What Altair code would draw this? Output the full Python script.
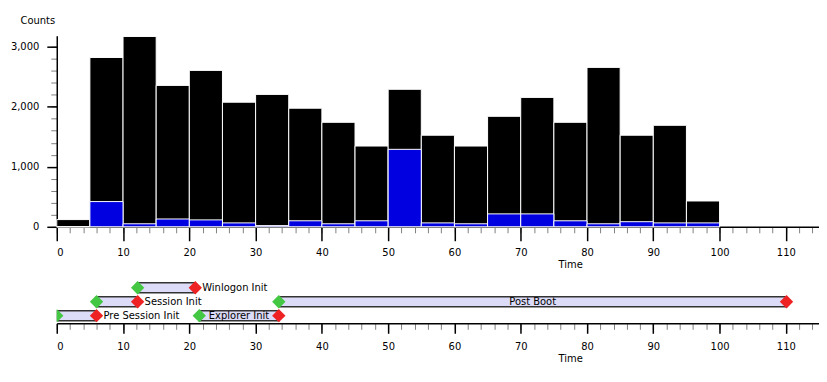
import altair as alt
import pandas as pd

# ---- data ----
bin_start = [0, 5, 10, 15, 20, 25, 30, 35, 40, 45, 50, 55, 60, 65, 70, 75, 80, 85, 90, 95]
total_counts = [120, 2820, 3170, 2355, 2605, 2075, 2205, 1975, 1740, 1345,
                2290, 1525, 1345, 1840, 2155, 1740, 2655, 1525, 1690, 430]
blue_counts = [0, 420, 50, 130, 115, 65, 20, 100, 50, 100,
               1290, 65, 50, 215, 215, 100, 50, 85, 65, 65]

phase_names = ["Pre Session Init", "Session Init", "Winlogon Init", "Explorer Init", "Post Boot"]
phase_start = [0.0, 6.0, 12.2, 21.5, 33.5]
phase_end = [6.0, 12.2, 20.9, 33.5, 110.1]
phase_row = [1, 2, 3, 1, 2]
phase_label_pos = ["right", "right", "right", "center", "center"]

FONT = "DejaVu Sans"
XDOM = [0, 115]
W = 766

bars = pd.DataFrame({
    "start": bin_start,
    "end": [s + 5 for s in bin_start],
    "total": total_counts,
    "blue": blue_counts,
})
bars["zero"] = 0

phases = pd.DataFrame({
    "name": phase_names,
    "start": phase_start,
    "end": phase_end,
    "row": phase_row,
    "pos": phase_label_pos,
})
phases["lo"] = phases["row"] - 0.36
phases["hi"] = phases["row"] + 0.36
phases["mid"] = (phases["start"] + phases["end"]) / 2

major_x = list(range(0, 111, 10))
minor_x = list(range(0, 116, 2))
major_y = [0, 1000, 2000, 3000]
minor_y = list(range(0, 3181, 200))

def xaxis(tick_len, label_pad=3, minor=False, title="Time"):
    if minor:
        return alt.Axis(values=minor_x, tickSize=6, tickColor="#808080", labels=False,
                        domain=False, title=None, grid=False, orient="bottom")
    return alt.Axis(values=major_x, tickSize=tick_len, tickColor="black", tickWidth=1.5,
                    domainColor="black", domainWidth=1.5,
                    labelFont=FONT, labelFontSize=10, labelColor="black", labelPadding=label_pad,
                    title=title, titleFont=FONT, titleFontSize=10, titleFontWeight="normal",
                    titleColor="black", titleX=516, titleAlign="center", titlePadding=2,
                    grid=False, orient="bottom")

xs = alt.Scale(domain=XDOM, nice=False, zero=False)
ys = alt.Scale(domain=[0, 3182], nice=False)

base = alt.Chart(bars)

black = base.mark_bar(color="black", stroke="white", strokeWidth=1).encode(
    x=alt.X("start:Q", scale=xs, axis=xaxis(14, label_pad=7)),
    x2="end:Q",
    y=alt.Y("total:Q", scale=ys,
            axis=alt.Axis(values=major_y, format=",d", tickSize=10, tickColor="black",
                          tickWidth=1.5, domainColor="black", domainWidth=1.5,
                          labelFont=FONT, labelFontSize=10, labelColor="black",
                          labelPadding=8, grid=False, orient="left",
                          title="Counts", titleAngle=0, titleFont=FONT, titleFontSize=10,
                          titleFontWeight="normal", titleColor="black",
                          titleAlign="left", titleBaseline="middle", titleX=-37, titleY=-15)),
    y2="zero:Q",
)
blue = base.mark_bar(color="#0000e0", stroke="white", strokeWidth=1).encode(
    x=alt.X("start:Q", scale=xs, axis=None),
    x2="end:Q",
    y=alt.Y("blue:Q", scale=ys, axis=None),
    y2="zero:Q",
)
minor_tx = alt.Chart(pd.DataFrame({"v": minor_x})).mark_point(opacity=0).encode(
    x=alt.X("v:Q", scale=xs, axis=xaxis(6, minor=True)),
)
minor_ty = alt.Chart(pd.DataFrame({"v": minor_y})).mark_point(opacity=0).encode(
    y=alt.Y("v:Q", scale=ys, axis=alt.Axis(values=minor_y, tickSize=6, tickColor="#808080",
                                           labels=False, domain=False, title=None,
                                           grid=False, orient="left")),
)

top = alt.layer(minor_ty, minor_tx, black, blue).resolve_scale(
    x="independent", y="independent").properties(width=W, height=192)

ys2 = alt.Scale(domain=[0.45, 0.45 + 45 / 14], nice=False)

pbase = alt.Chart(phases)
pbar = pbase.mark_bar(fill="#dcdcf8", stroke="#333333", strokeWidth=1.5, clip=True).encode(
    x=alt.X("start:Q", scale=xs, axis=xaxis(10, label_pad=8)),
    x2="end:Q",
    y=alt.Y("lo:Q", scale=ys2, axis=None),
    y2="hi:Q",
)
pstart = pbase.mark_point(shape="diamond", filled=True, color="#44c844", size=180,
                          opacity=1, clip=True).encode(
    x=alt.X("start:Q", scale=xs, axis=None),
    y=alt.Y("row:Q", scale=ys2, axis=None),
)
pend = pbase.mark_point(shape="diamond", filled=True, color="#ee2222", size=180, opacity=1).encode(
    x=alt.X("end:Q", scale=xs, axis=None),
    y=alt.Y("row:Q", scale=ys2, axis=None),
)
lab_right = pbase.transform_filter(alt.datum.pos == "right").mark_text(
    align="left", baseline="middle", dx=7, font=FONT, fontSize=10, color="black").encode(
    x=alt.X("end:Q", scale=xs, axis=None),
    y=alt.Y("row:Q", scale=ys2, axis=None),
    text="name:N",
)
lab_center = pbase.transform_filter(alt.datum.pos == "center").mark_text(
    align="center", baseline="middle", font=FONT, fontSize=10, color="black").encode(
    x=alt.X("mid:Q", scale=xs, axis=None),
    y=alt.Y("row:Q", scale=ys2, axis=None),
    text="name:N",
)
minor_bx = alt.Chart(pd.DataFrame({"v": minor_x})).mark_point(opacity=0).encode(
    x=alt.X("v:Q", scale=xs, axis=xaxis(6, minor=True)),
)

bottom = alt.layer(minor_bx, pbar, pstart, pend, lab_right, lab_center).resolve_scale(
    x="independent").properties(width=W, height=45)

chart = alt.vconcat(top, bottom, spacing=9).properties(
    padding={"left": 2, "top": 7, "right": 0, "bottom": 0},
    background="white",
).configure_view(stroke="transparent", strokeWidth=0, clip=False)

chart.save("out.html", embed_options={"renderer": "svg", "actions": False})
